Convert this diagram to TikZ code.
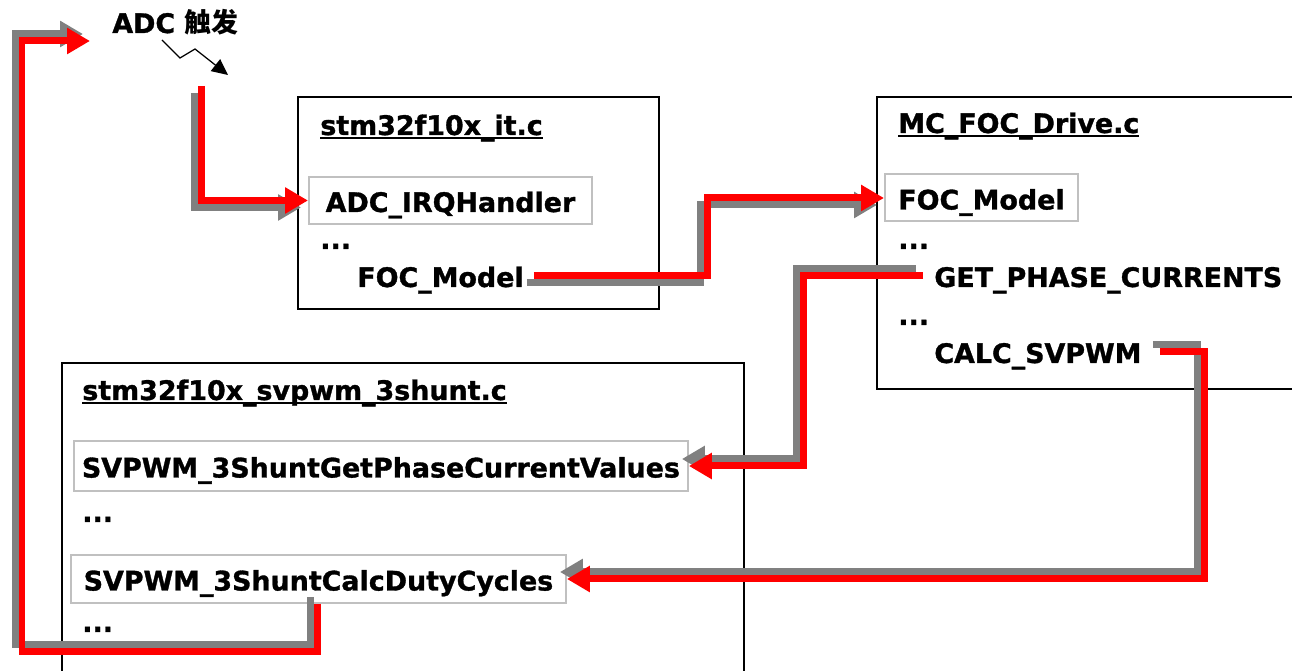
\documentclass[tikz,border=0pt]{standalone}
\usepackage{fontspec}
\setmainfont{DejaVu Sans}[BoldFeatures={FakeBold=1.2}]
\newfontfamily\cjk{Noto Sans CJK SC}
\usepackage{xcolor}
\usepackage{tikz}
\usetikzlibrary{arrows.meta,positioning}
\definecolor{pipered}{HTML}{FF0000}
\definecolor{pipegray}{HTML}{808080}
\definecolor{boxgray}{HTML}{C0C0C0}
\newcommand{\fileline}[1]{\setbox0=\hbox{#1}\rlap{\rule[-0.08cm]{\wd0}{0.04cm}}\box0}

\begin{document}
\begin{tikzpicture}[x=0.02cm,y=-0.02cm,
    every node/.style={font=\bfseries\fontsize{15.3}{18}\selectfont},
    txt/.style={anchor=base west, inner sep=0pt, text height=0.46cm, text depth=0pt},
    func/.style={draw=boxgray, line width=0.04cm, anchor=west, inner sep=0pt, text height=0.46cm, text depth=0pt},
    shadowdown/.style={transform canvas={xshift=-0.14cm, yshift=-0.14cm}},
    shadowup/.style={transform canvas={xshift=-0.14cm, yshift=0.14cm}}]
        \tikzstyle{file} = [draw=black, line width=0.03cm]
        \tikzstyle{redpipe} = [draw=pipered, line width=0.14cm, -{Triangle[length=0.46cm,width=0.5cm]}]
        \tikzstyle{graypipe} = [draw=pipegray, line width=0.14cm, -{Triangle[length=0.46cm,width=0.5cm]}]
        \tikzstyle{bolt} = [draw=black, line width=0.025cm, -{Triangle[length=0.32cm,width=0.3cm]}]
        \clip (0,0) rectangle (1292,671);

        % source files
        \draw[file] (298,97) rectangle (659,309);
        \draw[file] (877,97) rectangle (1310,389);
        \draw[file] (62,363) rectangle (744,690);

        % ADC trigger
        \node[txt] (adc) at (112,33) {ADC {\cjk 触发}};
        \coordinate (boltA) at (162,40);
        \coordinate (boltB) at (228,75);
        \draw[bolt] (boltA) -- (180,58) -- (195,49) -- (boltB);

        % stm32f10x_it.c
        \node[txt] (ittitle) at (320,135) {\fileline{stm32f10x\_it.c}};
        \node[func, minimum width=5.66cm, minimum height=0.94cm] (irq) at (308,200.5) {ADC\_IRQHandler};
        \node[txt] (itdots) at (320,249) {...};
        \node[txt] (focA) at (357,287) {FOC\_Model};

        % MC_FOC_Drive.c
        \node[txt] (drvtitle) at (898,133) {\fileline{MC\_FOC\_Drive.c}};
        \node[func, minimum width=3.86cm, minimum height=0.94cm] (focB) at (884,198) {FOC\_Model};
        \node[txt] (drvdots1) at (898,249) {...};
        \node[txt] (getcur) at (934,287) {GET\_PHASE\_CURRENTS};
        \node[txt] (drvdots2) at (898,325) {...};
        \node[txt] (calcsv) at (934,363) {CALC\_SVPWM};

        % stm32f10x_svpwm_3shunt.c
        \node[txt] (svtitle) at (82,400) {\fileline{stm32f10x\_svpwm\_3shunt.c}};
        \node[func, minimum width=12.28cm, minimum height=1cm] (getphase) at (73,466) {SVPWM\_3ShuntGetPhaseCurrentValues};
        \node[txt] (svdots1) at (82,522) {...};
        \node[func, minimum width=9.9cm, minimum height=0.96cm] (calcduty) at (70,579) {SVPWM\_3ShuntCalcDutyCycles};
        \node[txt] (svdots2) at (82,632) {...};

        % calls
        \coordinate (trig) at (201,86);
        \coordinate (bend2) at (707,198);
        \coordinate (bend3) at (803,466);
        \coordinate (bend4) at (1204,579);
        \coordinate (bend5) at (22,652);
        \coordinate (adcin) at (90,41);

        \draw[graypipe, shadowdown] (trig) |- (irq.west);
        \draw[redpipe] (trig) |- (irq.west);

        \draw[graypipe, shadowdown] ([xshift=0.2cm]focA.east) -| (bend2) -- (focB.west);
        \draw[redpipe] ([xshift=0.2cm]focA.east) -| (bend2) -- (focB.west);

        \draw[graypipe, shadowup] ([xshift=-0.22cm]getcur.west) -| (bend3) -- (getphase.east);
        \draw[redpipe] ([xshift=-0.22cm]getcur.west) -| (bend3) -- (getphase.east);

        \draw[graypipe, shadowup] ([xshift=0.36cm]calcsv.east) -| (bend4) -- (calcduty.east);
        \draw[redpipe] ([xshift=0.36cm]calcsv.east) -| (bend4) -- (calcduty.east);

        \draw[graypipe, shadowup] ([xshift=4.96cm]calcduty.south west) |- (bend5) |- (adcin);
        \draw[redpipe] ([xshift=4.96cm]calcduty.south west) |- (bend5) |- (adcin);
\end{tikzpicture}
\end{document}
